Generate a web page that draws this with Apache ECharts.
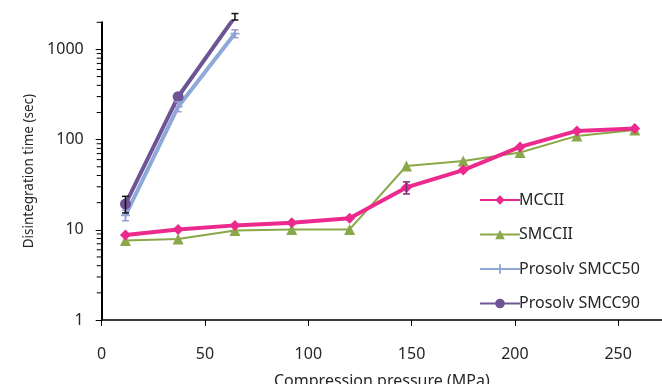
<!DOCTYPE html>
<html>
<head>
<meta charset="utf-8">
<script src="https://cdn.jsdelivr.net/npm/echarts@6/dist/echarts.min.js"></script>
<style>
html,body{margin:0;padding:0;background:#fff;}
#chart{width:662px;height:384px;}
</style>
</head>
<body>
<div id="chart"></div>
<script>
// Data
const pressure = [11.5, 37, 64.5, 92, 120, 147.5, 175, 202.5, 230, 258];
const mccII   = [8.75, 10.1, 11.2, 12.0, 13.4, 29.5, 46, 83, 125, 133];
const smccII  = [7.6, 7.9, 9.8, 10.1, 10.1, 51, 58, 72, 110, 128];
const pressureProsolv = [11.5, 37, 64.5];
const smcc50  = [14.5, 232, 1500];
const smcc90  = [19.3, 299, 2300];
// error bars: [x, low, high]
const errMCCII  = [[147.5, 25, 34]];
const errSMCC50 = [[11.5, 12.6, 16.5], [37, 204, 262], [64.5, 1350, 1650]];
const errSMCC90 = [[11.5, 15.4, 23.5], [64.5, 2120, 2500]];
const xTicks = [0, 50, 100, 150, 200, 250];
const minorTickValues = [2,3,4,5,6,7,8,9,20,30,40,50,60,70,80,90,200,300,400,500,600,700,800,900,2000];
const seriesNames = ['MCCII', 'SMCCII', 'Prosolv SMCC50', 'Prosolv SMCC90'];

const FONT = 'Noto Sans';
const chart = echarts.init(document.getElementById('chart'), null, {renderer: 'canvas'});

function zip(xs, ys) { return xs.map((x, i) => [x, ys[i]]); }

function errRender(color) {
  return function (params, api) {
    const x = api.value(0), lo = api.value(1), hi = api.value(2);
    const pLo = api.coord([x, lo]);
    const pHi = api.coord([x, hi]);
    const w = 3.5;
    const st = {stroke: color, lineWidth: 1.5};
    return {
      type: 'group',
      children: [
        {type: 'line', shape: {x1: pLo[0], y1: pLo[1], x2: pHi[0], y2: pHi[1]}, style: st},
        {type: 'line', shape: {x1: pLo[0]-w, y1: pLo[1], x2: pLo[0]+w, y2: pLo[1]}, style: st},
        {type: 'line', shape: {x1: pHi[0]-w, y1: pHi[1], x2: pHi[0]+w, y2: pHi[1]}, style: st}
      ]
    };
  };
}

const plusPath = 'path://M4,0h2v4h4v2h-4v4h-2v-4h-4v-2h4z';

const option = {
  animation: false,
  backgroundColor: '#fff',
  grid: {left: 101.7, top: 22.3, bottom: 64, right: 0, containLabel: false, outerBoundsMode: 'none'},
  legend: {
    orient: 'vertical',
    left: 474,
    top: 187,
    itemWidth: 40,
    itemHeight: 12,
    itemGap: 18.5,
    data: seriesNames,
    textStyle: {fontFamily: FONT, fontSize: 16, color: '#262626', padding: [0, 0, 0, -6]}
  },
  xAxis: {
    type: 'value',
    min: 0, max: 271.2,
    name: 'Compression pressure (MPa)',
    nameLocation: 'middle',
    nameGap: 53,
    nameTextStyle: {fontFamily: FONT, fontSize: 16, color: '#262626'},
    axisLine: {lineStyle: {color: '#000', width: 1.5}},
    axisTick: {length: 6, lineStyle: {color: '#000', width: 1}, customValues: xTicks},
    axisLabel: {fontFamily: FONT, fontSize: 16, color: '#262626', margin: 26, customValues: xTicks},
    splitLine: {show: false}
  },
  yAxis: {
    type: 'log',
    logBase: 10,
    min: 1, max: 2000,
    name: 'Disintegration time (sec)',
    nameLocation: 'middle',
    nameGap: 64,
    nameTextStyle: {fontFamily: FONT, fontSize: 13.5, color: '#262626'},
    axisLine: {show: true, lineStyle: {color: '#000', width: 2}},
    axisTick: {show: true, length: 6, lineStyle: {color: '#000', width: 1}},
    axisLabel: {fontFamily: FONT, fontSize: 16, color: '#262626', margin: 18, showMaxLabel: false,
      formatter: function (v) { return String(Math.round(v)); }},
    splitLine: {show: false}
  },
  series: [
    {
      name: 'MCCII', type: 'line', data: zip(pressure, mccII),
      symbol: 'diamond', symbolSize: 11, z: 5,
      lineStyle: {color: '#EC2A8E', width: 4}, itemStyle: {color: '#EC2A8E'}
    },
    {
      name: 'SMCCII', type: 'line', data: zip(pressure, smccII),
      symbol: 'triangle', symbolSize: 11, z: 4,
      lineStyle: {color: '#8AA84A', width: 2}, itemStyle: {color: '#8AA84A'}
    },
    {
      name: 'Prosolv SMCC50', type: 'line', data: zip(pressureProsolv, smcc50),
      symbol: plusPath, symbolSize: 9, z: 3,
      lineStyle: {color: '#8EA9D8', width: 4}, itemStyle: {color: '#8EA9D8'}
    },
    {
      name: 'Prosolv SMCC90', type: 'line', data: zip(pressureProsolv, smcc90),
      symbol: 'circle', symbolSize: 11, z: 4, clip: true,
      lineStyle: {color: '#6E5494', width: 4}, itemStyle: {color: '#6E5494'}
    },
    {
      type: 'custom', data: errMCCII, renderItem: errRender('#7B2C6E'), clip: false, silent: true, z: 6,
      encode: {x: 0, y: [1, 2]}
    },
    {
      type: 'custom', data: errSMCC50, renderItem: errRender('#9B9BD6'), clip: false, silent: true, z: 6,
      encode: {x: 0, y: [1, 2]}
    },
    {
      type: 'custom', data: errSMCC90, renderItem: errRender('#111'), clip: false, silent: true, z: 6,
      encode: {x: 0, y: [1, 2]}
    },
    {
      type: 'custom', clip: false, silent: true, z: 7,
      data: minorTickValues.map(v => [0, v]),
      renderItem: function (params, api) {
        const p = api.coord([api.value(0), api.value(1)]);
        return {type: 'line', shape: {x1: p[0]-5, y1: p[1], x2: p[0], y2: p[1]}, style: {stroke: '#000', lineWidth: 1}};
      }
    }
  ]
};
chart.setOption(option);
</script>
</body>
</html>
